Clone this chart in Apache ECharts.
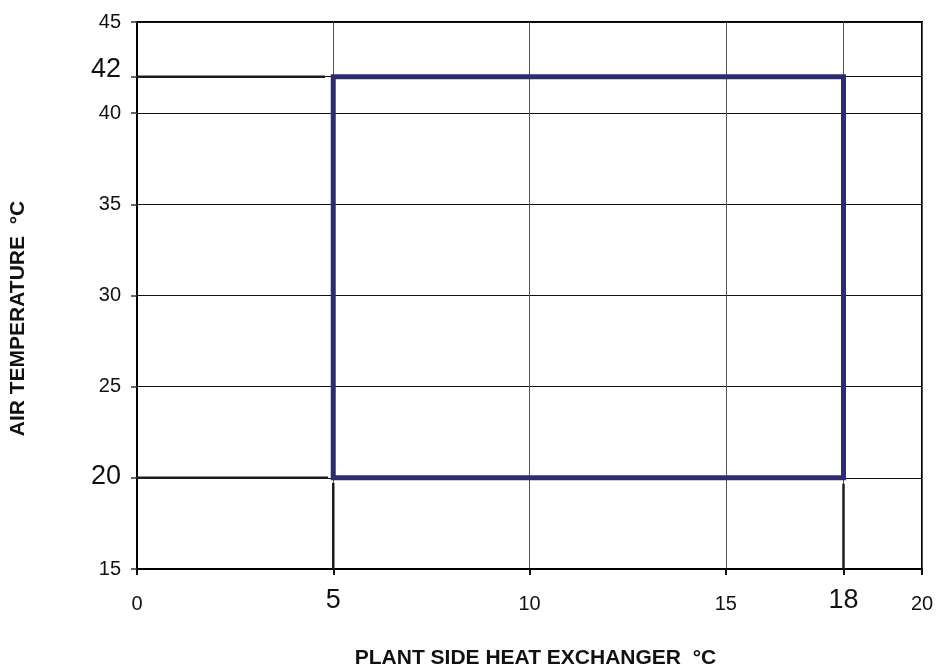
<!DOCTYPE html>
<html>
<head>
<meta charset="utf-8">
<style>
  html, body { margin: 0; padding: 0; background: #fff; }
  #chart { width: 936px; height: 664px; }
</style>
<script src="https://cdn.jsdelivr.net/npm/echarts@6/dist/echarts.min.js"></script>
</head>
<body>
<div id="chart"></div>
<script>
// Axis ranges and labelled values
const xRange = [0, 20];
const yRange = [15, 45];
const axisStep = 5;
const xLabelValues = [0, 5, 10, 15, 18, 20];
const xBigLabels = [5, 18];
const yLabelValues = [15, 20, 25, 30, 35, 40, 42, 45];
const yBigLabels = [20, 42];

// Operating envelope (water temperature °C, air temperature °C)
const envelopeX = [5, 5, 18, 18, 5];
const envelopeY = [20, 42, 42, 20, 20];

// Leader lines: horizontal ones from the air axis, vertical ones from the water axis
const hLeaderY = [20, 42];
const hLeaderEndX = [4.87, 4.79];
const vLeaderX = [5, 18];
const vLeaderEndY = [19.72, 19.67];

const FONT = '"Liberation Sans", Arial, sans-serif';

const envelopeData = envelopeX.map((x, i) => [x, envelopeY[i]]);

const leaderSeries = [];
hLeaderY.forEach((y, i) => {
  leaderSeries.push({
    type: 'line', data: [[xRange[0], y], [hLeaderEndX[i], y]],
    symbol: 'none', silent: true, z: 3,
    lineStyle: { color: '#1c1c1c', width: 2.5 }
  });
});
vLeaderX.forEach((x, i) => {
  leaderSeries.push({
    type: 'line', data: [[x, yRange[0]], [x, vLeaderEndY[i]]],
    symbol: 'none', silent: true, z: 3,
    lineStyle: { color: '#1c1c1c', width: 2.5 }
  });
});

const chart = echarts.init(document.getElementById('chart'), null, { renderer: 'canvas' });
chart.setOption({
  animation: false,
  backgroundColor: '#ffffff',
  textStyle: { fontFamily: FONT },
  grid: {
    left: 137, right: 14, top: 22, bottom: 95,
    outerBoundsMode: 'none', containLabel: false,
    show: true, borderColor: '#000', borderWidth: 2, backgroundColor: 'transparent'
  },
  xAxis: {
    type: 'value', min: xRange[0], max: xRange[1], interval: axisStep,
    name: 'PLANT SIDE HEAT EXCHANGER  °C',
    nameLocation: 'middle', nameGap: 79,
    nameTextStyle: { fontFamily: FONT, fontSize: 21, fontWeight: 'bold', color: '#111',
                     padding: [0, 0, 0, 12] },
    axisLine: { show: true, lineStyle: { color: '#000', width: 2 } },
    axisTick: { show: true, inside: false, length: 6, customValues: xLabelValues,
                lineStyle: { color: '#111', width: 2 } },
    axisLabel: {
      customValues: xLabelValues, margin: 45, verticalAlign: 'bottom',
      formatter: v => xBigLabels.includes(v) ? '{big|' + v + '}' : '{small|' + v + '}',
      rich: {
        small: { fontFamily: FONT, fontSize: 20, color: '#111' },
        big: { fontFamily: FONT, fontSize: 27, color: '#111' }
      }
    },
    splitLine: { show: true, lineStyle: { color: '#555', width: 1 } }
  },
  yAxis: {
    type: 'value', min: yRange[0], max: yRange[1], interval: axisStep,
    name: 'AIR TEMPERATURE  °C',
    nameLocation: 'middle', nameGap: 108,
    nameTextStyle: { fontFamily: FONT, fontSize: 21, fontWeight: 'bold', color: '#111',
                     padding: [0, 46, 0, 0] },
    axisLine: { show: true, lineStyle: { color: '#000', width: 2 } },
    axisTick: { show: true, inside: false, length: 6, customValues: yLabelValues,
                lineStyle: { color: '#333', width: 1.5 } },
    axisLabel: {
      customValues: yLabelValues, margin: 16,
      formatter: v => {
        if (v === 42) return '{bigUp|' + v + '}';
        return yBigLabels.includes(v) ? '{big|' + v + '}' : '{small|' + v + '}';
      },
      rich: {
        small: { fontFamily: FONT, fontSize: 20, color: '#111' },
        big: { fontFamily: FONT, fontSize: 27, color: '#111', padding: [0, 0, 2, 0] },
        bigUp: { fontFamily: FONT, fontSize: 27, color: '#111', padding: [0, 0, 14, 0] }
      }
    },
    splitLine: { show: true, lineStyle: { color: '#111', width: 1 } }
  },
  series: [
    {
      type: 'line', name: 'envelope', data: envelopeData,
      symbol: 'none', silent: true, z: 4,
      lineStyle: { color: '#2e2b6f', width: 5, join: 'miter', cap: 'square' }
    }
  ].concat(leaderSeries)
});
</script>
</body>
</html>
